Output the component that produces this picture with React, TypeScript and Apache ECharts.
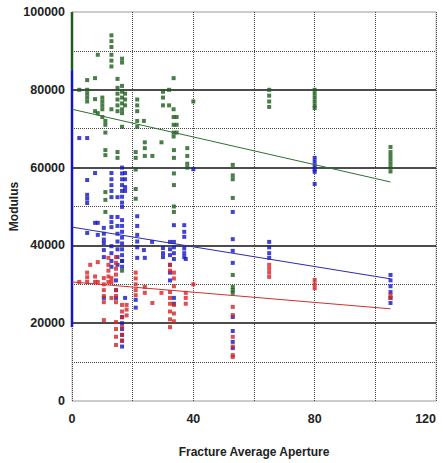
import React, { useEffect, useRef } from "react";
import * as echarts from "echarts";

// Fracture average aperture vs modulus — three groups (green / blue / red)
const greenPoints: [number, number][] = [
  [2.4, 80000],
  [5, 82500], [5, 80000], [5, 79000], [5, 78000], [5, 77000],
  [7.6, 83000], [7.6, 77600], [7.6, 74500],
  [8.5, 89000], [8.5, 74000],
  [10, 78000], [10, 77000], [10, 76000], [10, 75000], [10, 73000],
  [11, 72000], [11, 71000], [11, 69000], [11, 64500], [11, 63200], [11, 53700], [11, 51700], [11, 48600],
  [13, 94000], [13, 92500], [13, 91000], [13, 89000], [13, 87500], [13, 86000], [13, 75000],
  [15, 82800], [15, 80500], [15, 79000], [15, 77500], [15, 76000], [15, 74500], [15, 64000], [15, 62500],
  [16.5, 88000], [16.5, 87000], [16.5, 81000], [16.5, 79500], [16.5, 78000], [16.5, 76500], [16.5, 75000], [16.5, 74000], [16.5, 70500], [16.5, 36000], [16.5, 33500],
  [17.5, 79000], [17.5, 77500], [17.5, 76000],
  [21.5, 77500], [21.5, 76000], [21.5, 74500], [21.5, 72000], [21.5, 70500],
  [21, 64000], [21, 62500], [21, 59500], [21, 54500], [21, 52000],
  [23.7, 72000], [24, 66500], [24, 65000], [24, 63000],
  [26.5, 63000], [29.5, 66500],
  [30, 79500], [30, 78000], [30, 76000],
  [32, 80000], [32, 76000],
  [33.5, 83000], [33.5, 75000], [33.5, 73000], [33.5, 71000], [33.5, 69000], [33.5, 68000],
  [33.6, 64500], [33.6, 62500], [33.6, 58500], [33.6, 55500], [33.6, 50000], [33.6, 48600],
  [34.5, 73000], [34.5, 71000], [34.5, 69000],
  [38, 65000], [38, 63000], [38, 61000], [38, 60000],
  [40, 77000],
  [53, 60700], [53, 58000], [53, 57000], [53, 52200], [53, 32400], [53, 29300], [53, 28500], [53, 27800],
  [65, 80000], [65, 78500], [65, 77000], [65, 75600],
  [80, 80000], [80, 79000], [80, 78000], [80, 77000], [80, 76000], [80, 75300],
  [105, 65300], [105, 64000], [105, 63000], [105, 62000], [105, 61000], [105, 60000], [105, 59000],
];

const bluePoints: [number, number][] = [
  [2.4, 67600], [5, 67600],
  [5, 56800], [5, 53000], [5, 52000], [5, 50900], [5, 43200],
  [7.6, 58600], [7.6, 45800],
  [8.5, 45800], [8.5, 42700],
  [10.5, 44500], [10.5, 43000], [10.5, 41500], [10.5, 40600], [10.5, 38800], [10.5, 37000], [10.5, 26500],
  [13, 58600], [13, 57000], [13, 55500], [13, 54000], [13, 52400], [13, 47300], [13, 46000], [13, 44700], [13, 39800], [13, 38000], [13, 36000], [13, 34500],
  [14.5, 31000], [14.5, 28500], [14.5, 26500],
  [15, 52400], [15, 47300], [15, 45000], [15, 43000], [15, 41000], [15, 39000], [15, 37000], [15, 35000],
  [16.5, 60000], [16.5, 58500], [16.5, 57000], [16.5, 55500], [16.5, 54000], [16.5, 52500], [16.5, 51000], [16.5, 49900],
  [16.5, 46500], [16.5, 45000], [16.5, 43500], [16.5, 42000], [16.5, 40500], [16.5, 39000], [16.5, 37500], [16.5, 36000], [16.5, 34500],
  [16.5, 21600], [16.5, 20000], [16.5, 18500], [16.5, 17000], [16.5, 15500], [16.5, 14000],
  [17.5, 58600], [17.5, 57000], [17.5, 55000], [17.5, 54000], [17.5, 26500],
  [21.5, 47500], [21.5, 45000], [21.5, 42700], [21.5, 41000], [21.5, 39500], [21.5, 36800], [21, 26000], [21, 24000],
  [23.7, 38800], [24, 36800], [26.4, 40900],
  [30, 39300], [30, 38000], [30, 37000],
  [32.3, 40900], [32.3, 39000], [32.3, 37500], [32.3, 35000], [32.3, 33000], [32.3, 31000],
  [33.6, 45200], [33.6, 40900], [33.6, 39500], [33.6, 38000], [33.6, 36500], [33.6, 26500], [33.6, 25000],
  [37, 45200], [37, 43500], [37, 42200], [37, 39200], [37, 38000], [37, 37000], [37.5, 36500],
  [40, 59600],
  [53, 48600], [53, 41600], [53, 38600], [53, 35500], [53, 21600], [53, 18000], [53, 15200], [53, 13600],
  [65, 40900], [65, 39500], [65, 38000], [65, 36800],
  [80, 62500], [80, 61500], [80, 60500], [80, 59500], [80, 58900], [80, 55800],
  [105, 32400], [105, 31000], [105, 29500], [105, 28000], [105, 26500], [105, 25200],
];

const redPoints: [number, number][] = [
  [2.4, 30600], [5, 33000], [5, 31800], [5, 30600], [6, 35000], [7.6, 32000], [7.6, 30600], [8.5, 35700], [8.5, 30600],
  [10.5, 31600], [10.5, 30000], [10.5, 28500], [10.5, 27000], [10.5, 25400], [10.5, 20800],
  [12, 36800], [12, 35000], [12, 33500], [12, 32000], [12, 30600],
  [13, 31600], [13, 30600], [13, 26500],
  [14.5, 37000], [14.5, 35500], [14.5, 34000], [14.5, 32500], [14.5, 28500], [14.5, 27000], [14.5, 25400],
  [14.5, 20300], [14.5, 18500], [14.5, 16500], [14.5, 14400],
  [16.5, 24700], [16.5, 23000], [16.5, 21500], [16.5, 19000], [16.5, 17000], [16.5, 15500],
  [18, 24700], [18, 23500], [18, 22000],
  [21, 33000], [21, 31500], [21, 30000], [21, 28500], [21, 27200],
  [24, 29300], [24, 27800], [26.5, 25200], [29.5, 27800],
  [32.3, 35000], [32.3, 33500], [32.3, 28000], [32.3, 26500], [32.3, 25000], [32.3, 23000], [32.3, 21000], [32.3, 19000],
  [33.6, 33000], [33.6, 31500], [33.6, 29500], [33.6, 24700], [33.6, 22500], [33.6, 20500],
  [37.5, 27800], [37.5, 26500], [37.5, 25000],
  [40, 30000],
  [53, 24200], [53, 22100], [53, 16500], [53, 14000], [53, 11800], [53, 11300],
  [65, 35000], [65, 34000], [65, 33000], [65, 31900],
  [80, 31100], [80, 30000], [80, 29000],
  [105, 27200], [105, 26500],
];

// Dense stacks of measurements at zero aperture (appear as a line on the axis)
const greenZeroAperture: [number, number][] = [[0, 85000], [0, 100000]];
const blueZeroAperture: [number, number][] = [[0, 19000], [0, 85000]];

// Linear trend lines (endpoints)
const greenTrend: [number, number][] = [[0, 75000], [105, 56300]];
const blueTrend: [number, number][] = [[0, 44700], [105, 31400]];
const redTrend: [number, number][] = [[0, 30600], [105, 23700]];

const GREEN = "#1c5e1c";
const BLUE = "#1414c8";
const RED = "#d42424";

export default function App() {
  const ref = useRef<HTMLDivElement>(null);
  useEffect(() => {
    if (!ref.current) return;
    const chart = echarts.init(ref.current, undefined, { renderer: "svg" });
    const scatter = (name: string, data: [number, number][], color: string) => ({
      name,
      type: "scatter",
      data,
      symbol: "rect",
      symbolSize: 4,
      itemStyle: { color },
      z: 3,
    });
    const line = (name: string, data: [number, number][], color: string, width: number, z: number) => ({
      name,
      type: "line",
      data,
      symbol: "none",
      lineStyle: { color, width },
      z,
    });
    chart.setOption({
      animation: false,
      backgroundColor: "#ffffff",
      textStyle: { fontFamily: "Liberation Sans" },
      grid: {
        left: 72,
        right: 7,
        top: 12,
        bottom: 62,
        outerBoundsMode: "none",
        containLabel: false,
        show: true,
        borderColor: "#c4c4c4",
        borderWidth: 1,
      },
      xAxis: {
        type: "value",
        min: 0,
        max: 120,
        interval: 40,
        name: "Fracture Average Aperture",
        nameLocation: "middle",
        nameGap: 45,
        nameMoveOverlap: false,
        nameTextStyle: { fontSize: 12, fontWeight: "bold", color: "#222" },
        axisLine: { show: false },
        axisTick: { show: false },
        axisLabel: {
          fontSize: 12.5,
          fontWeight: "bold",
          color: "#222",
          margin: 11,
          alignMaxLabel: "right",
        },
        splitLine: { show: true, lineStyle: { color: "#444", type: "dotted", width: 1 } },
        minorTick: { show: false, splitNumber: 2 },
        minorSplitLine: { show: true, lineStyle: { color: "#444", type: "dotted", width: 1 } },
      },
      yAxis: {
        type: "value",
        min: 0,
        max: 100000,
        interval: 20000,
        name: "Modulus",
        nameLocation: "middle",
        nameGap: 52,
        nameMoveOverlap: false,
        nameTextStyle: { fontSize: 12, fontWeight: "bold", color: "#222" },
        axisLine: { show: false },
        axisTick: { show: false },
        axisLabel: {
          fontSize: 12.5,
          fontWeight: "bold",
          color: "#222",
          margin: 7,
          formatter: (v: number) => String(v),
        },
        splitLine: {
          show: true,
          lineStyle: { color: ["#c4c4c4", "#111", "#111", "#111", "#111", "#c4c4c4"], width: 1.5 },
        },
        minorTick: { show: false, splitNumber: 2 },
        minorSplitLine: { show: true, lineStyle: { color: "#444", type: "dotted", width: 1 } },
      },
      series: [
        line("Green zero aperture", greenZeroAperture, GREEN, 2.5, 4),
        line("Blue zero aperture", blueZeroAperture, BLUE, 2.5, 4),
        scatter("Green", greenPoints, GREEN),
        scatter("Blue", bluePoints, BLUE),
        scatter("Red", redPoints, RED),
        line("Green trend", greenTrend, "#2f6f2f", 1, 5),
        line("Blue trend", blueTrend, "#2a2ab0", 1, 5),
        line("Red trend", redTrend, "#d03030", 1, 5),
      ],
    });
    return () => chart.dispose();
  }, []);
  return (
    <div
      ref={ref}
      style={{ position: "fixed", left: 0, top: 0, width: 443, height: 463, background: "#fff" }}
    />
  );
}
